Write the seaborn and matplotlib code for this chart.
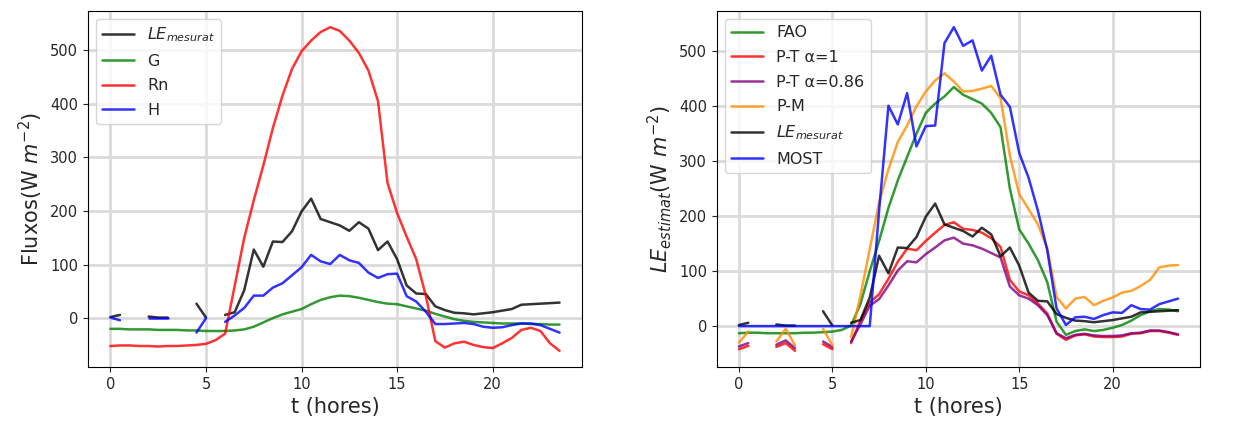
import numpy as np
import matplotlib
matplotlib.use("Agg")
import matplotlib.pyplot as plt
import seaborn as sns

nan = np.nan

# hores (cada mitja hora)
hores = np.arange(0, 24, 0.5)

# --- panell esquerre: fluxos mesurats
le_mesurat = [2, 6, nan, nan, 3, 1, 1, nan, nan, 27, 1, nan,
              6, 11, 52, 128, 96, 143, 142, 162, 199, 223, 185, 179,
              173, 163, 179, 167, 127, 143, 110, 61, 46, 45, 22, 15,
              10, 9, 7, 9, 11, 14, 17, 25, 26, 27, 28, 29]
g_flux = [-20, -20, -21, -21, -21, -22, -22, -22, -23, -23, -24, -24,
          -24, -23, -21, -16, -8, 0, 7, 12, 17, 26, 34, 39,
          42, 41, 38, 34, 30, 27, 26, 22, 18, 14, 8, 3,
          -2, -5, -7, -8, -9, -10, -10, -10, -11, -11, -12, -12]
rn_flux = [-52, -51, -51, -52, -52, -53, -52, -52, -51, -50, -48, -41,
           -29, 60, 150, 220, 285, 355, 415, 465, 498, 518, 534, 543,
           536, 518, 495, 462, 405, 252, 196, 152, 110, 42, -43, -55,
           -47, -44, -50, -54, -56, -47, -37, -22, -18, -24, -47, -61]
h_flux = [1, -4, nan, nan, 0, 0, 0, nan, nan, -27, 0, nan,
          -7, 5, 19, 42, 42, 57, 65, 80, 95, 118, 106, 101,
          118, 108, 103, 85, 75, 82, 83, 41, 31, 12, -11, -11,
          -10, -9, -11, -16, -18, -17, -13, -10, -10, -13, -20, -27]

# --- panell dret: LE estimat
fao = [-13, -12, -12, -13, -13, -13, -13, -12, -12, -11, -10, -7,
       1, 40, 100, 155, 215, 265, 308, 350, 388, 405, 418, 435,
       421, 413, 405, 388, 362, 250, 176, 150, 120, 80, 8, -16,
       -9, -6, -9, -7, -3, 2, 10, 20, 27, 31, 30, 27]
pt_1 = [-42, -36, nan, nan, -38, -31, -45, nan, nan, -33, -42, nan,
        -31, 10, 43, 58, 86, 117, 141, 138, 155, 170, 184, 189,
        177, 175, 170, 160, 144, 84, 63, 56, 41, 23, -14, -25,
        -17, -15, -19, -20, -20, -19, -14, -13, -9, -9, -12, -16]
pt_086 = [-37, -31, nan, nan, -34, -26, -40, nan, nan, -28, -38, nan,
          -28, 3, 37, 49, 74, 101, 118, 116, 131, 143, 156, 161,
          150, 147, 141, 133, 125, 72, 56, 50, 38, 20, -13, -22,
          -16, -14, -17, -18, -18, -17, -13, -12, -8, -8, -11, -15]
pm = [-30, -10, nan, nan, -28, -5, -35, nan, nan, -5, -35, nan,
      -20, 55, 140, 225, 285, 335, 365, 400, 427, 447, 460, 445,
      427, 428, 432, 437, 415, 310, 240, 213, 185, 142, 53, 32,
      50, 53, 38, 46, 52, 61, 64, 73, 84, 107, 110, 111]
most = [0, 0, 0, 0, 0, 0, 0, 0, 0, 0, 0, 0,
        0, 0, 0, 210, 401, 367, 424, 327, 364, 365, 515, 544,
        510, 520, 465, 492, 421, 399, 315, 270, 210, 138, 32, 2,
        16, 17, 13, 20, 25, 24, 38, 31, 30, 40, 45, 50]


def dibuixa(ax, y, color, label):
    # talla la serie als forats (NaN) i dibuixa cada tram
    y = np.asarray(y, dtype=float)
    ok = ~np.isnan(y)
    tram = np.cumsum(~ok)
    primer = True
    for s in np.unique(tram[ok]):
        m = ok & (tram == s)
        sns.lineplot(x=hores[m], y=y[m], ax=ax, color=color, alpha=0.8,
                     linewidth=1.8, label=label if primer else "_nolegend_")
        primer = False


sns.set_style("ticks")
plt.rcParams["font.family"] = ["DejaVu Sans"]

fig = plt.figure(figsize=(12.48, 4.26), dpi=100)
ax1 = fig.add_axes([88 / 1248, 1 - 367 / 426, 494 / 1248, 356 / 426])
ax2 = fig.add_axes([717 / 1248, 1 - 367 / 426, 483 / 1248, 356 / 426])

dibuixa(ax1, le_mesurat, "black", "$LE_{mesurat}$")
dibuixa(ax1, g_flux, "green", "G")
dibuixa(ax1, rn_flux, "red", "Rn")
dibuixa(ax1, h_flux, "blue", "H")

dibuixa(ax2, fao, "green", "FAO")
dibuixa(ax2, pt_1, "red", "P-T α=1")
dibuixa(ax2, pt_086, "purple", "P-T α=0.86")
dibuixa(ax2, pm, "darkorange", "P-M")
dibuixa(ax2, le_mesurat, "black", "$LE_{mesurat}$")
dibuixa(ax2, most, "blue", "MOST")

for ax in (ax1, ax2):
    ax.grid(True, color="#dadada", linewidth=2)
    ax.set_axisbelow(True)
    ax.set_xlabel("t (hores)", fontsize=15)
    ax.tick_params(labelsize=10.5)
    ax.set_xticks([0, 5, 10, 15, 20])
    ax.set_yticks([0, 100, 200, 300, 400, 500])
    for sp in ax.spines.values():
        sp.set_color("black")
    ax.legend(loc="upper left", fontsize=11.5, labelspacing=0.6)

ax1.set_ylabel("Fluxos(W $m^{-2}$)", fontsize=15)
ax2.set_ylabel("$LE_{estimat}$(W $m^{-2}$)", fontsize=15)

fig.savefig("out.png", dpi=100)
